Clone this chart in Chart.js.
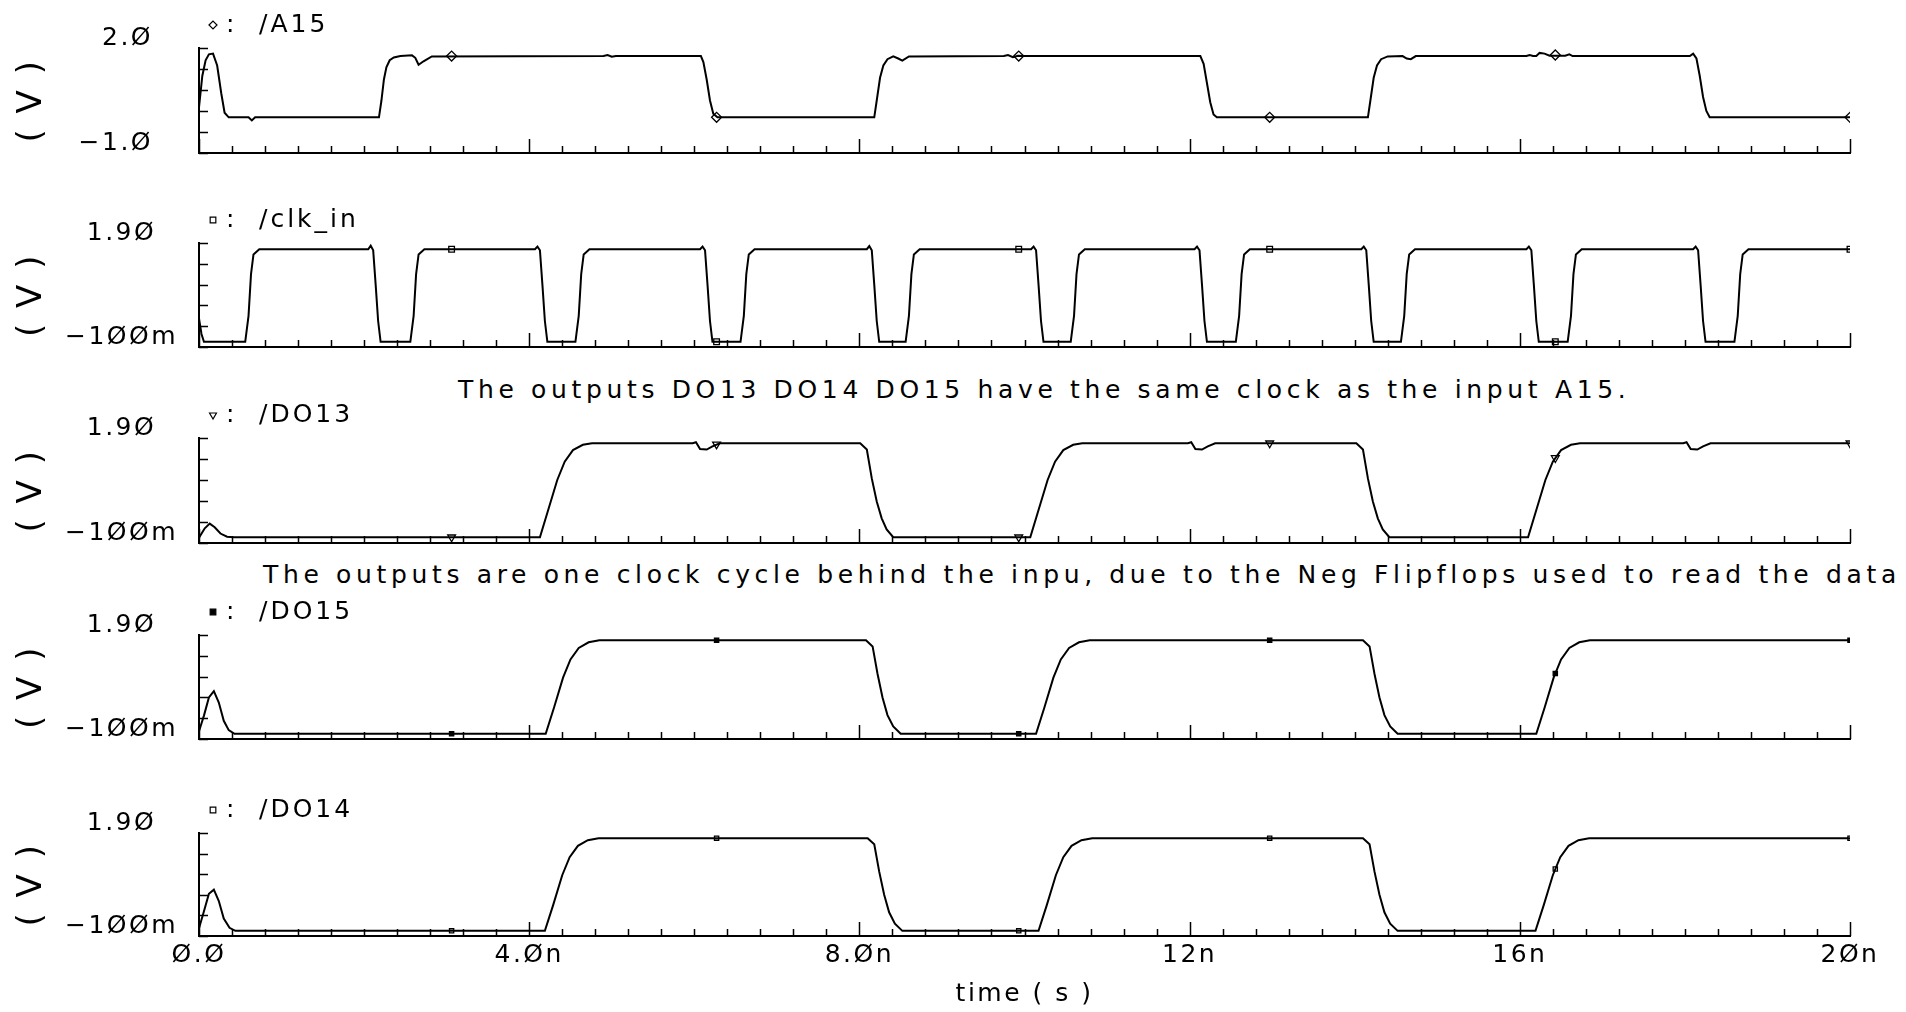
<!DOCTYPE html>
<html>
<head>
<meta charset="utf-8">
<script src="https://cdn.jsdelivr.net/npm/chart.js"></script>
<style>
  html, body { margin: 0; padding: 0; background: #fff; overflow: hidden; }
  body { width: 1906px; height: 1012px; position: relative; }
  .plot { position: absolute; left: 0; width: 1906px; }
  .note { position: absolute; white-space: nowrap; color: #000;
          font: 400 25px "DejaVu Sans", sans-serif; letter-spacing: 4.65px; line-height: 30px; }
</style>
</head>
<body>

<div class="note" style="left:458px; top:375px">The outputs DO13 DO14 DO15 have the same clock as the input A15.</div>
<div class="note" style="left:263px; top:560px">The outputs are one clock cycle behind the inpu, due to the Neg Flipflops used to read the data</div>

<script>
  // time in ns, values in V
  const markT = [3.06, 6.27, 9.93, 12.97, 16.43, 20];

  const a15T = [0, 0.04, 0.08, 0.12, 0.17, 0.22, 0.27, 0.31, 0.36,
    0.6, 0.64, 0.68,
    2.18, 2.21, 2.24, 2.27, 2.31, 2.36, 2.44,
    2.58, 2.62, 2.66, 2.72, 2.82,
    4.9, 4.95, 5.0, 5.05,
    6.08, 6.11, 6.15, 6.19, 6.23, 6.28,
    8.18, 8.21, 8.25, 8.29, 8.34, 8.41, 8.47, 8.52, 8.6,
    9.75, 9.8, 9.86, 9.92, 10.0,
    12.13, 12.17, 12.21, 12.25, 12.29, 12.33,
    14.16, 14.19, 14.23, 14.27, 14.32, 14.4, 14.58, 14.63, 14.68, 14.74,
    16.08, 16.12, 16.16, 16.2, 16.24, 16.3, 16.36, 16.55, 16.6, 16.64,
    18.06, 18.1, 18.14, 18.18, 18.22, 18.26, 18.3,
    20];
  const a15V = [0.3, 1.2, 1.65, 1.82, 1.84, 1.5, 0.7, 0.15, 0.02,
    0.02, -0.07, 0.02,
    0.02, 0.5, 1.1, 1.45, 1.65, 1.73, 1.77,
    1.79, 1.72, 1.52, 1.62, 1.76,
    1.77, 1.8, 1.75, 1.77,
    1.77, 1.6, 1.1, 0.5, 0.12, 0.02,
    0.02, 0.5, 1.15, 1.5, 1.68, 1.76, 1.7, 1.64, 1.76,
    1.77, 1.8, 1.74, 1.78, 1.77,
    1.77, 1.55, 1.0, 0.45, 0.1, 0.02,
    0.02, 0.5, 1.15, 1.5, 1.68, 1.76, 1.77, 1.7, 1.68, 1.77,
    1.77, 1.8, 1.77, 1.77, 1.86, 1.84, 1.78, 1.78, 1.82, 1.77,
    1.77, 1.84, 1.7, 1.2, 0.6, 0.2, 0.02,
    0.02];
  const a15Mark = [1.77, 0.02, 1.77, 0.02, 1.8, 0.02];

  const clkT = [0, 0.03, 0.06,
    0.56, 0.6, 0.63, 0.66, 0.73,
    2.05, 2.08, 2.11, 2.14, 2.17, 2.2,
    2.56, 2.6, 2.63, 2.66, 2.73,
    4.07, 4.1, 4.13, 4.16, 4.19, 4.22,
    4.56, 4.6, 4.63, 4.66, 4.73,
    6.07, 6.1, 6.13, 6.16, 6.19, 6.22,
    6.56, 6.6, 6.63, 6.66, 6.73,
    8.09, 8.12, 8.15, 8.18, 8.21, 8.24,
    8.56, 8.6, 8.63, 8.66, 8.73,
    10.08, 10.11, 10.14, 10.17, 10.2, 10.23,
    10.56, 10.6, 10.63, 10.66, 10.73,
    12.06, 12.09, 12.12, 12.15, 12.18, 12.21,
    12.56, 12.6, 12.63, 12.66, 12.73,
    14.08, 14.11, 14.14, 14.17, 14.2, 14.23,
    14.56, 14.6, 14.63, 14.66, 14.73,
    16.08, 16.11, 16.14, 16.17, 16.2, 16.23,
    16.58, 16.62, 16.65, 16.68, 16.75,
    18.1, 18.13, 18.16, 18.19, 18.22, 18.25,
    18.6, 18.64, 18.67, 18.7, 18.77,
    20];
  const clkV = [0.45, 0.15, 0.0,
    0.0, 0.5, 1.3, 1.68, 1.78,
    1.78, 1.85, 1.76, 1.1, 0.4, 0.0,
    0.0, 0.5, 1.3, 1.68, 1.78,
    1.78, 1.83, 1.76, 1.1, 0.4, 0.0,
    0.0, 0.5, 1.3, 1.68, 1.78,
    1.78, 1.83, 1.76, 1.1, 0.4, 0.0,
    0.0, 0.5, 1.3, 1.68, 1.78,
    1.78, 1.84, 1.76, 1.1, 0.4, 0.0,
    0.0, 0.5, 1.3, 1.68, 1.78,
    1.78, 1.83, 1.76, 1.1, 0.4, 0.0,
    0.0, 0.5, 1.3, 1.68, 1.78,
    1.78, 1.83, 1.76, 1.1, 0.4, 0.0,
    0.0, 0.5, 1.3, 1.68, 1.78,
    1.78, 1.83, 1.76, 1.1, 0.4, 0.0,
    0.0, 0.5, 1.3, 1.68, 1.78,
    1.78, 1.83, 1.76, 1.1, 0.4, 0.0,
    0.0, 0.5, 1.3, 1.68, 1.78,
    1.78, 1.83, 1.76, 1.1, 0.4, 0.0,
    0.0, 0.5, 1.3, 1.68, 1.78,
    1.78];
  const clkMark = [1.78, 0.0, 1.78, 1.78, 0.0, 1.78];

  const do13T = [0, 0.07, 0.13, 0.19, 0.26, 0.34, 0.42,
    4.13, 4.23, 4.34, 4.43, 4.53, 4.65, 4.76,
    5.98, 6.02, 6.07, 6.15, 6.22, 6.31,
    8.01, 8.09, 8.15, 8.21, 8.27, 8.33, 8.41,
    10.07, 10.17, 10.28, 10.37, 10.47, 10.59, 10.7,
    11.98, 12.02, 12.07, 12.15, 12.22, 12.31,
    14.02, 14.1, 14.16, 14.22, 14.28, 14.34, 14.42,
    16.1, 16.2, 16.31, 16.4, 16.5, 16.62, 16.73,
    17.98, 18.02, 18.07, 18.15, 18.22, 18.31,
    20];
  const do13V = [0.0, 0.18, 0.27, 0.2, 0.08, 0.02, 0.01,
    0.01, 0.53, 1.1, 1.45, 1.67, 1.77, 1.8,
    1.8, 1.82, 1.69, 1.68, 1.74, 1.8,
    1.8, 1.68, 1.13, 0.69, 0.37, 0.16, 0.01,
    0.01, 0.53, 1.1, 1.45, 1.67, 1.77, 1.8,
    1.8, 1.82, 1.69, 1.68, 1.74, 1.8,
    1.8, 1.68, 1.13, 0.69, 0.37, 0.16, 0.01,
    0.01, 0.53, 1.1, 1.45, 1.67, 1.77, 1.8,
    1.8, 1.82, 1.69, 1.68, 1.74, 1.8,
    1.8];
  const do13Mark = [0.01, 1.78, 0.01, 1.8, 1.52, 1.8];

  const do15T = [0, 0.06, 0.12, 0.18, 0.24, 0.3, 0.36, 0.43,
    4.2, 4.3, 4.41, 4.5, 4.6, 4.72, 4.85,
    8.08, 8.16, 8.22, 8.28, 8.34, 8.41, 8.5,
    10.14, 10.24, 10.35, 10.44, 10.54, 10.66, 10.79,
    14.1, 14.18, 14.24, 14.3, 14.36, 14.43, 14.52,
    16.2, 16.3, 16.41, 16.5, 16.6, 16.72, 16.85,
    20];
  const do15V = [0.05, 0.35, 0.7, 0.82, 0.6, 0.25, 0.07, 0.0,
    0.0, 0.5, 1.08, 1.43, 1.65, 1.76, 1.8,
    1.8, 1.68, 1.15, 0.7, 0.36, 0.14, 0.0,
    0.0, 0.5, 1.08, 1.43, 1.65, 1.76, 1.8,
    1.8, 1.68, 1.15, 0.7, 0.36, 0.14, 0.0,
    0.0, 0.5, 1.08, 1.43, 1.65, 1.76, 1.8,
    1.8];
  const do15Mark = [0.0, 1.8, 0.0, 1.8, 1.16, 1.8];

  const do14T = [0, 0.06, 0.12, 0.18, 0.24, 0.3, 0.37, 0.44,
    4.19, 4.29, 4.4, 4.49, 4.59, 4.71, 4.84,
    8.1, 8.18, 8.24, 8.3, 8.36, 8.43, 8.52,
    10.17, 10.27, 10.38, 10.47, 10.57, 10.69, 10.82,
    14.1, 14.18, 14.24, 14.3, 14.36, 14.43, 14.52,
    16.19, 16.29, 16.4, 16.49, 16.59, 16.71, 16.84,
    20];
  const do14V = [0.05, 0.38, 0.72, 0.8, 0.58, 0.24, 0.06, 0.0,
    0.0, 0.5, 1.08, 1.43, 1.65, 1.76, 1.8,
    1.8, 1.68, 1.15, 0.7, 0.36, 0.14, 0.0,
    0.0, 0.5, 1.08, 1.43, 1.65, 1.76, 1.8,
    1.8, 1.68, 1.15, 0.7, 0.36, 0.14, 0.0,
    0.0, 0.5, 1.08, 1.43, 1.65, 1.76, 1.8,
    1.8];
  const do14Mark = [0.0, 1.8, 0.0, 1.8, 1.2, 1.8];

  // axis ranges [min, max, step] and end labels [bottom, top]
  const a15Range = [-1, 2, 0.6];
  const outRange = [-0.1, 1.9, 0.4];
  const a15Ticks = ['−1.Ø', '2.Ø'];
  const outTicks = ['−1ØØm', '1.9Ø'];
  const timeTickValues = [0, 4, 8, 12, 16, 20];
  const timeTickLabels = ['Ø.Ø', '4.Øn', '8.Øn', '12n', '16n', '2Øn'];

  const FONT = '"DejaVu Sans", sans-serif';
  const WEIGHT = 400;
  const LS = '2.5px';
  const plotTop = [48, 243, 438, 635, 833];
  const plotBottom = [153, 347, 543, 739, 936];
  const HEAD = 70;

  const spacing = {
    id: 'spacing',
    beforeUpdate(chart) { chart.ctx.letterSpacing = LS; },
    beforeDraw(chart) { chart.ctx.letterSpacing = LS; }
  };

  const isMajor = (v) => Math.abs(v / 4 - Math.round(v / 4)) < 1e-6;

  const tickMarks = {
    id: 'tickMarks',
    afterDraw(chart) {
      const { ctx, chartArea: a, scales: { x, y } } = chart;
      ctx.save();
      ctx.strokeStyle = '#000';
      ctx.lineWidth = 1.5;
      ctx.beginPath();
      x.ticks.forEach((t) => {
        const px = Math.round(x.getPixelForValue(t.value)) + 0.5;
        const len = isMajor(t.value) ? 14 : 7;
        ctx.moveTo(px, a.bottom);
        ctx.lineTo(px, a.bottom - len);
      });
      y.ticks.forEach((t) => {
        const py = Math.round(y.getPixelForValue(t.value)) + 0.5;
        ctx.moveTo(a.left, py);
        ctx.lineTo(a.left + 9, py);
      });
      ctx.stroke();
      ctx.restore();
    }
  };

  const seriesLabel = {
    id: 'seriesLabel',
    afterDraw(chart, args, opts) {
      const { ctx, chartArea: a } = chart;
      const y = a.top - 23;
      ctx.save();
      ctx.strokeStyle = '#000';
      ctx.fillStyle = opts.fill;
      ctx.lineWidth = 1.2;
      if (Chart.helpers && Chart.helpers.drawPoint) {
        Chart.helpers.drawPoint(ctx, { pointStyle: opts.style, rotation: opts.rotation, radius: 4, borderWidth: 1.2 }, a.left + 14, y);
      }
      ctx.fillStyle = '#000';
      ctx.letterSpacing = '3px';
      ctx.font = WEIGHT + ' 25px ' + FONT;
      ctx.textBaseline = 'middle';
      ctx.fillText(':', a.left + 27, y);
      ctx.fillText(opts.text, a.left + 60, y);
      ctx.restore();
    }
  };

  const series = [
    { text: '/A15', t: a15T, v: a15V, mark: a15Mark, range: a15Range, ticks: a15Ticks, align: 'near', pad: 46,
      marker: { style: 'rectRot', rotation: 0, radius: 5, fill: '#fff' } },
    { text: '/clk_in', t: clkT, v: clkV, mark: clkMark, range: outRange, ticks: outTicks, align: 'center', pad: 21,
      marker: { style: 'rect', rotation: 0, radius: 4, fill: '#fff' } },
    { text: '/DO13', t: do13T, v: do13V, mark: do13Mark, range: outRange, ticks: outTicks, align: 'center', pad: 21,
      marker: { style: 'triangle', rotation: 180, radius: 4.5, fill: '#fff' } },
    { text: '/DO15', t: do15T, v: do15V, mark: do15Mark, range: outRange, ticks: outTicks, align: 'center', pad: 21,
      marker: { style: 'rect', rotation: 0, radius: 3, fill: '#000' } },
    { text: '/DO14', t: do14T, v: do14V, mark: do14Mark, range: outRange, ticks: outTicks, align: 'center', pad: 21,
      marker: { style: 'rect', rotation: 0, radius: 3, fill: '#fff' } }
  ];

  series.forEach((s, i) => {
    const last = i === series.length - 1;
    const xHeight = last ? 75 : 20;
    const padBottom = last ? 0 : 45;
    const box = document.createElement('div');
    box.className = 'plot';
    box.style.top = (plotTop[i] - HEAD) + 'px';
    box.style.height = (plotBottom[i] - plotTop[i] + HEAD + xHeight + padBottom) + 'px';
    const cv = document.createElement('canvas');
    box.appendChild(cv);
    document.body.appendChild(box);

    const font = { family: FONT, size: 25, weight: WEIGHT };

    new Chart(cv, {
      type: 'line',
      data: {
        datasets: [
          {
            data: s.t.map((t, k) => ({ x: t, y: s.v[k] })),
            borderColor: '#000',
            borderWidth: 2,
            pointRadius: 0,
            tension: 0,
            fill: false
          },
          {
            data: markT.map((t, k) => ({ x: t, y: s.mark[k] })),
            showLine: false,
            pointStyle: s.marker.style,
            pointRotation: s.marker.rotation,
            pointRadius: s.marker.radius,
            pointBackgroundColor: s.marker.fill,
            pointBorderColor: '#000',
            pointBorderWidth: 1.3
          }
        ]
      },
      options: {
        responsive: true,
        maintainAspectRatio: false,
        animation: false,
        events: [],
        layout: { padding: { top: HEAD, right: 56, bottom: padBottom, left: 0 } },
        plugins: {
          legend: { display: false },
          tooltip: { enabled: false },
          seriesLabel: { text: s.text, style: s.marker.style, rotation: s.marker.rotation, fill: s.marker.fill }
        },
        scales: {
          x: {
            type: 'linear',
            min: 0,
            max: 20,
            ticks: {
              stepSize: 0.4,
              autoSkip: false,
              maxRotation: 0,
              display: last,
              padding: 4,
              color: '#000',
              font: font,
              callback: (v) => {
                const k = timeTickValues.findIndex((t) => Math.abs(t - v) < 1e-6);
                return k >= 0 ? timeTickLabels[k] : '';
              }
            },
            grid: { display: true, drawOnChartArea: false, drawTicks: false },
            border: { display: true, color: '#000', width: 2 },
            title: {
              display: last,
              text: 'time ( s )',
              color: '#000',
              font: font,
              padding: { top: 0, bottom: 2 }
            },
            afterFit: (sc) => { sc.height = xHeight; }
          },
          y: {
            min: s.range[0],
            max: s.range[1],
            ticks: {
              stepSize: s.range[2],
              autoSkip: false,
              crossAlign: s.align,
              padding: s.pad,
              labelOffset: -10,
              color: '#000',
              font: font,
              callback: (v, k, all) => (k === 0 ? s.ticks[0] : (k === all.length - 1 ? s.ticks[1] : ''))
            },
            grid: { display: true, drawOnChartArea: false, drawTicks: false },
            border: { display: true, color: '#000', width: 2 },
            title: {
              display: true,
              text: '( V )',
              color: '#000',
              font: { family: FONT, size: 34, weight: WEIGHT },
              padding: { top: 12, bottom: 0 }
            },
            afterFit: (sc) => { sc.width = 199; }
          }
        }
      },
      plugins: [spacing, tickMarks, seriesLabel]
    });
  });
</script>
</body>
</html>
